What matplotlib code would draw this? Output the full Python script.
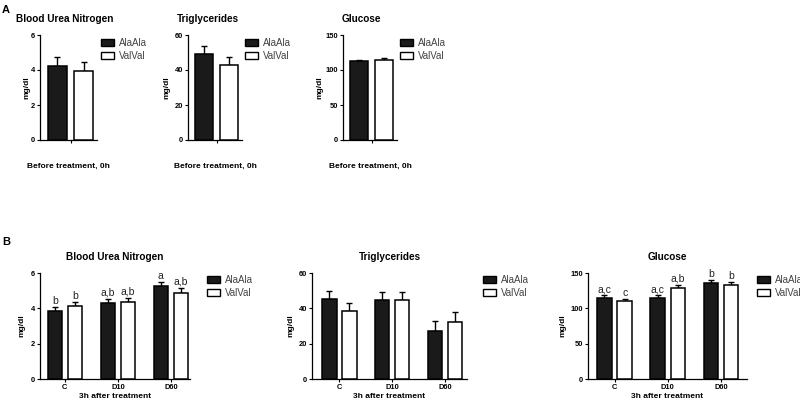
import matplotlib
matplotlib.use("Agg")
import matplotlib.pyplot as plt
from matplotlib.patches import Patch

plt.rcParams['font.family'] = ['Liberation Sans', 'DejaVu Sans']

# ---- data ----
series = ["AlaAla", "ValVal"]
groups_b = ["C", "D10", "D60"]

# panel A: before treatment, 0h  (mean, sem) per genotype
bun_a = [4.25, 3.97]
bun_a_err = [0.48, 0.5]
tg_a = [49.1, 42.9]
tg_a_err = [4.6, 4.6]
glu_a = [112.9, 114.3]
glu_a_err = [2.0, 2.2]

# panel B: 3h after treatment, per group C / D10 / D60
bun_b_ala = [3.86, 4.32, 5.25]
bun_b_ala_err = [0.2, 0.22, 0.25]
bun_b_val = [4.13, 4.38, 4.87]
bun_b_val_err = [0.22, 0.2, 0.27]
bun_b_ala_letters = ["b", "a,b", "a"]
bun_b_val_letters = ["b", "a,b", "a,b"]

tg_b_ala = [45.3, 44.6, 27.2]
tg_b_ala_err = [4.4, 4.7, 5.7]
tg_b_val = [38.5, 45.0, 32.0]
tg_b_val_err = [4.6, 4.5, 5.8]

glu_b_ala = [114.8, 114.8, 136.0]
glu_b_ala_err = [3.5, 3.5, 3.8]
glu_b_val = [110.0, 129.0, 132.9]
glu_b_val_err = [3.5, 3.8, 4.0]
glu_b_ala_letters = ["a,c", "a,c", "b"]
glu_b_val_letters = ["c", "a,b", "b"]

W, H = 800, 403
fig = plt.figure(figsize=(W / 100, H / 100), dpi=100)


def px_axes(x0, x1, y0, y1):
    return fig.add_axes([x0 / W, 1 - y1 / H, (x1 - x0) / W, (y1 - y0) / H])


def style(ax, ymax, step, lpad):
    for s in ["top", "right"]:
        ax.spines[s].set_visible(False)
    for s in ["left", "bottom"]:
        ax.spines[s].set_linewidth(0.9)
    ax.set_ylim(0, ymax)
    ax.set_yticks([step * i for i in range(int(ymax / step) + 1)])
    ax.tick_params(direction="out", length=2.2, width=0.8, pad=1.2,
                   labelsize=5.4)
    for lab in ax.get_yticklabels() + ax.get_xticklabels():
        lab.set_fontweight("bold")
    ax.set_ylabel("mg/dl", fontsize=6, fontweight="bold", labelpad=lpad)


def bars(ax, x, vals, errs, color):
    ax.bar(x, vals, width=bw, color=color, edgecolor="black", linewidth=1.1,
           zorder=3)
    ax.errorbar(x, vals, yerr=[[0] * len(vals), errs], fmt="none",
                ecolor="black", elinewidth=1.0, capsize=2.4, capthick=1.0,
                zorder=2)


def legend(ax, xpx, ypx):
    handles = [Patch(facecolor="#1a1a1a", edgecolor="black", linewidth=1.0),
               Patch(facecolor="white", edgecolor="black", linewidth=1.0)]
    ax.legend(handles, series, loc="upper left",
              bbox_to_anchor=(xpx / W, 1 - ypx / H),
              bbox_transform=fig.transFigure, frameon=False, fontsize=7,
              labelcolor="#444444",
              handlelength=1.35, handleheight=0.7, handletextpad=0.5,
              labelspacing=0.3, borderpad=0, borderaxespad=0)


# ---- panel A ----
bw = 0.38
off = 0.265
panel_a = [
    ("Blood Urea Nitrogen", bun_a, bun_a_err, 6, 2, (40, 97), 101, 65, 0.5),
    ("Triglycerides", tg_a, tg_a_err, 60, 20, (188, 242), 245, 208, 3),
    ("Glucose", glu_a, glu_a_err, 150, 50, (343, 397), 400, 361, 2),
]
for title, vals, errs, ymax, step, (x0, x1), lx, tx, lpad in panel_a:
    ax = px_axes(x0, x1, 35, 140)
    bars(ax, [-off], [vals[0]], [errs[0]], "#1a1a1a")
    bars(ax, [off], [vals[1]], [errs[1]], "white")
    ax.set_xlim(-0.61, 0.53)
    ax.set_xticks([0])
    ax.set_xticklabels([""])
    style(ax, ymax, step, lpad)
    ax.set_xlabel("Before treatment, 0h", fontsize=6, fontweight="bold",
                  labelpad=13)
    legend(ax, lx, 38)
    fig.text(tx / W, 1 - 19 / H, title, fontsize=7.2, fontweight="bold",
             ha="center", va="center")

fig.text(2 / W, 1 - 10 / H, "A", fontsize=8, fontweight="bold",
         ha="left", va="center")

# ---- panel B ----
bw = 0.275
off = 0.19
xs = list(range(len(groups_b)))
panel_b = [
    ("Blood Urea Nitrogen", bun_b_ala, bun_b_ala_err, bun_b_val, bun_b_val_err,
     bun_b_ala_letters, bun_b_val_letters, 6, 2, (40, 190), (-0.47, 2.36), 207, 4),
    ("Triglycerides", tg_b_ala, tg_b_ala_err, tg_b_val, tg_b_val_err,
     None, None, 60, 20, (312, 467), (-0.52, 2.42), 483, 3),
    ("Glucose", glu_b_ala, glu_b_ala_err, glu_b_val, glu_b_val_err,
     glu_b_ala_letters, glu_b_val_letters, 150, 50, (588, 747), (-0.5, 2.49), 757, 3),
]
for (title, a, ae, v, ve, al, vl, ymax, step, (x0, x1), xlim, lx, lpad) in panel_b:
    ax = px_axes(x0, x1, 273, 379)
    xa = [x - off for x in xs]
    xv = [x + off for x in xs]
    bars(ax, xa, a, ae, "#1a1a1a")
    bars(ax, xv, v, ve, "white")
    ax.set_xlim(*xlim)
    ax.set_xticks(xs)
    ax.set_xticklabels(groups_b)
    style(ax, ymax, step, lpad)
    ax.set_xlabel("3h after treatment", fontsize=6, fontweight="bold",
                  labelpad=2)
    ax.set_title(title, fontsize=7.2, fontweight="bold", pad=9)
    if al is not None:
        pad = ymax * 0.012
        for x, y, e, t in zip(xa, a, ae, al):
            ax.text(x, y + e + pad, t, fontsize=7.5, ha="center", va="bottom",
                    color="#222222")
        for x, y, e, t in zip(xv, v, ve, vl):
            ax.text(x, y + e + pad, t, fontsize=7.5, ha="center", va="bottom",
                    color="#222222")
    legend(ax, lx, 275)

fig.text(2 / W, 1 - 242 / H, "B", fontsize=8, fontweight="bold",
         ha="left", va="center")

fig.savefig("out.png", dpi=100)
